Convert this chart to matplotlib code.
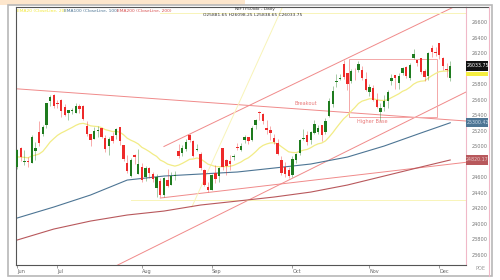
import matplotlib
matplotlib.use("Agg")
import matplotlib.pyplot as plt
from matplotlib.patches import Rectangle
from matplotlib.lines import Line2D
import matplotlib.transforms as mtransforms

# daily OHLC, 16 Jun -> 4 Dec (one entry per trading day)
opens = [24732, 24977, 24788, 24803, 24787, 24939, 25179, 25151, 25268, 25576, 25661,
         25551, 25588, 25505, 25428, 25450, 25428, 25515, 25512, 25256, 25149, 25090,
         25197, 25231, 25108, 24999, 25125, 25139, 25244, 25011, 24782, 24609, 24890, 24642,
         24735, 24596, 24720, 24641, 24464, 24544, 24371, 24563, 24496, 24607, 24938, 24904,
         24965, 25142, 25064, 24950, 24899, 24695, 24466,
         24432, 24653, 24617, 24980, 24818, 24802, 24864, 24992, 24945, 25074, 25118, 25074,
         25276, 25441, 25410, 25239, 25209, 25108, 25035, 24818, 24729, 24691,
         24620, 24815, 24916, 25086, 25140, 25074, 25167, 25178, 25277, 25181, 25394, 25546,
         25824, 25867, 26057, 25936, 25844, 25939, 25982, 25984, 25863,
         25697, 25744, 25593, 25433, 25503, 25576, 25834, 25920, 25818, 25946, 26022, 25876,
         26132, 26109, 26133, 25967, 25902, 26262, 26216,
         26326, 26136, 26000, 25882]
highs = [24967, 24983, 24947, 24864, 25137, 25058, 25317, 25266, 25561, 25654, 25669,
         25593, 25608, 25548, 25470, 25489, 25549, 25548, 25525, 25323, 25151, 25245,
         25255, 25238, 25145, 25111, 25183, 25233, 25247, 25011, 24889, 24848, 24903, 24956,
         24784, 24736, 24733, 24671, 24634, 24586, 24602, 24702, 24664, 24674, 25022, 25013,
         25088, 25154, 25084, 25021, 24919, 24703, 24541,
         24636, 24756, 24730, 24980, 24833, 24885, 24892, 25036, 25038, 25139, 25120, 25262,
         25346, 25449, 25429, 25331, 25261, 25151, 25092, 24868, 24791, 24731,
         24867, 24904, 25095, 25220, 25193, 25199, 25331, 25267, 25277, 25365, 25625, 25781,
         25926, 25935, 26104, 25944, 25999, 26010, 26097, 26032, 25954,
         25803, 25787, 25679, 25551, 25653, 25718, 25934, 25921, 25940, 26021, 26029, 26075,
         26246, 26110, 26142, 25996, 26215, 26310, 26280,
         26325, 26155, 26066, 26098]
lows = [24703, 24813, 24750, 24733, 24784, 24825, 24999, 25125, 25234, 25523, 25489,
        25488, 25378, 25389, 25331, 25407, 25424, 25424, 25341, 25129, 25001, 25089,
        25121, 25101, 24918, 24882, 25036, 25085, 25018, 24807, 24646, 24599, 24771, 24635,
        24535, 24554, 24590, 24540, 24344, 24337, 24347, 24465, 24494, 24563, 24852, 24871,
        24930, 25054, 24859, 24933, 24689, 24481, 24404,
        24432, 24529, 24533, 24691, 24621, 24697, 24819, 24944, 24940, 25036, 25025, 25071,
        25220, 25330, 25287, 25151, 25084, 25032, 24878, 24629, 24605, 24587,
        24605, 24776, 24881, 25077, 25008, 25024, 25156, 25152, 25060, 25159, 25376, 25508,
        25763, 25848, 25862, 25718, 25812, 25856, 25960, 25846, 25711,
        25645, 25578, 25492, 25318, 25449, 25491, 25792, 25740, 25740, 25920, 25876, 25857,
        26119, 26037, 25927, 25843, 25848, 26151, 26165,
        26125, 25981, 25891, 25839]
closes = [24946, 24853, 24812, 24793, 25112, 24972, 25044, 25245, 25549, 25637, 25517,
          25542, 25453, 25405, 25461, 25461, 25523, 25476, 25355, 25150, 25082, 25196,
          25212, 25112, 24968, 25091, 25061, 25220, 25062, 24837, 24681, 24821, 24855, 24768,
          24565, 24723, 24650, 24574, 24596, 24363, 24585, 24487, 24619, 24631, 24877, 24980,
          25051, 25084, 24870, 24968, 24712, 24501, 24427,
          24625, 24580, 24715, 24734, 24741, 24773, 24869, 24973, 25005, 25114, 25069, 25239,
          25330, 25424, 25327, 25202, 25170, 25057, 24891, 24655, 24634, 24611,
          24836, 24894, 25077, 25108, 25046, 25181, 25285, 25227, 25145, 25324, 25585, 25710,
          25843, 25868, 25891, 25795, 25966, 25936, 26054, 25878, 25722,
          25763, 25598, 25510, 25492, 25575, 25695, 25876, 25880, 25910, 26013, 25910, 26052,
          26192, 26068, 25960, 25885, 26205, 26216, 26203,
          26176, 26032, 25986, 26034]

ema20 = [24859, 24858, 24854, 24848, 24873, 24882, 24898, 24931, 24990, 25052, 25096,
         25138, 25168, 25191, 25216, 25240, 25267, 25287, 25293, 25280, 25261, 25255,
         25251, 25238, 25212, 25200, 25187, 25190, 25178, 25146, 25101, 25075, 25054, 25027,
         24983, 24958, 24929, 24895, 24867, 24819, 24797, 24767, 24753, 24741, 24754, 24776,
         24802, 24829, 24833, 24846, 24833, 24801, 24766,
         24752, 24736, 24734, 24734, 24735, 24738, 24751, 24772, 24794, 24825, 24848, 24885,
         24927, 24975, 25008, 25027, 25040, 25042, 25028, 24992, 24958, 24925,
         24917, 24915, 24930, 24947, 24956, 24978, 25007, 25028, 25039, 25066, 25116, 25172,
         25236, 25296, 25353, 25395, 25449, 25496, 25549, 25580, 25594,
         25610, 25609, 25599, 25589, 25588, 25598, 25625, 25649, 25674, 25706, 25726, 25757,
         25798, 25824, 25837, 25841, 25876, 25908, 25936,
         25959, 25966, 25968, 25974]

# slow averages every 10 bars
ema_bars = [0, 10, 20, 30, 40, 50, 60, 70, 80, 90, 100, 110, 118]
ema100 = [24071, 24213, 24368, 24561, 24613, 24639, 24665, 24716, 24768, 24858, 25000, 25168, 25300]
ema200 = [23787, 23929, 24032, 24110, 24161, 24239, 24290, 24342, 24406, 24497, 24613, 24729, 24820]

month_names = ["Jun", "Jul", "Aug", "Sep", "Oct", "Nov", "Dec"]
month_start = [0, 11, 34, 53, 75, 96, 115]

# scale labels (the ones hidden under the price tags are left out)
price_ticks = [23600, 23800, 24000, 24200, 24400, 24600, 25000, 25200, 25400,
               25600, 25800, 26200, 26400, 26600]

# drawn trendlines: (bar, price) end points
red_lines = [
    ([-0.3, 122.3], [25739, 25323]),   # falling resistance
    ([40, 122.3], [24994, 26870]),     # channel top
    ([25, 122.3], [23408, 25697]),     # channel bottom
    ([39, 122.3], [24329, 24790]),     # rising support
]
yellow_lines = [
    ([47.6, 72.3], [24213, 26794]),
    ([31, 122.3], [24303, 24303]),
    ([39, 122.3], [26716, 26716]),
]
base_box = (90.5, 25374, 23.9, 749)   # bar, low, width in bars, height

last_close = 26033.75

up_col = "#1e7b1e"
dn_col = "#ee2a2a"
line_red = "#f08a8a"

fig = plt.figure(figsize=(5, 2.8), dpi=100)
fig.patches.append(Rectangle((0, 1 - 5 / 280), 245 / 500, 5 / 280, transform=fig.transFigure,
                             facecolor="#fde6cc", edgecolor="none"))
fig.patches.append(Rectangle((8 / 500, 4 / 280), 484 / 500, 271 / 280, transform=fig.transFigure,
                             facecolor="none", edgecolor="#b8b8b8", lw=1.2))
fig.lines.append(Line2D([466 / 500, 489 / 500], [1 - 7 / 280, 1 - 7 / 280], transform=fig.transFigure,
                        color="#555555", lw=0.8))
fig.lines.append(Line2D([489 / 500, 489 / 500], [1 - 276 / 280, 1 - 7 / 280], transform=fig.transFigure,
                        color="#f0b8c8", lw=0.8))

ax = fig.add_axes([16 / 500, 15 / 280, 450 / 500, 258 / 280])
ax.set_xlim(-0.3, 122.3)
ax.set_ylim(23465, 26794)

# candles
for i in range(len(closes)):
    col = up_col if closes[i] >= opens[i] else dn_col
    ax.vlines(i, lows[i], highs[i], color=col, lw=0.5, alpha=0.55, zorder=3)
    lo = min(opens[i], closes[i])
    h = max(abs(closes[i] - opens[i]), 6)
    ax.bar(i, h, bottom=lo, width=0.66, color=col, edgecolor="none", zorder=4)

ax.plot(range(len(ema20)), ema20, color="#f2ec86", lw=0.9, zorder=2)
ax.plot(ema_bars, ema100, color="#4d7594", lw=0.8, zorder=2)
ax.plot(ema_bars, ema200, color="#b8585c", lw=0.8, zorder=2)

for xs, ys in red_lines:
    ax.plot(xs, ys, color=line_red, lw=0.7, zorder=1)
for xs, ys in yellow_lines:
    ax.plot(xs, ys, color="#f8f4b8", lw=0.7, zorder=1)

bx, by, bw, bh = base_box
ax.add_patch(Rectangle((bx, by), bw, bh, facecolor="none", edgecolor="#f4a8a8", lw=0.7, zorder=1))
ax.text(bx + 2, by - 60, "Higher Base", color="#e87878", fontsize=3.6, va="center", ha="left")
ax.text(75.5, 25550, "Breakout", color="#e87878", fontsize=3.6, va="center", ha="left")

# axes styling
for s in ["left", "top", "bottom"]:
    ax.spines[s].set_color("#555555")
    ax.spines[s].set_linewidth(0.8)
ax.spines["right"].set_color("#f0b8c8")
ax.spines["right"].set_linewidth(0.8)

ax.yaxis.tick_right()
ax.set_yticks(price_ticks)
ax.set_yticklabels([str(p) for p in price_ticks])
ax.tick_params(axis="y", length=0, pad=4, labelsize=3.6, labelcolor="#777777")
ax.set_xticks(month_start)
ax.set_xticklabels(month_names, ha="left")
ax.tick_params(axis="x", length=2, width=0.5, color="#777777", pad=1, labelsize=3.6,
               labelcolor="#666666")

# price tags on the right scale
tr = mtransforms.blended_transform_factory(ax.transAxes, ax.transData)
tag_w = 22 / 450
ax.add_patch(Rectangle((1.001, ema20[-1] - 75), tag_w, 60, transform=tr, facecolor="#f5ee40",
                       edgecolor="none", clip_on=False, zorder=5))
tags = [(last_close, "26033.75", "#111111", "white"),
        (ema100[-1], "25300.42", "#4d7594", "#c8d8e8"),
        (ema200[-1], "24820.17", "#b8585c", "#e8c8c8")]
for yv, txt, fc, tc in tags:
    ax.add_patch(Rectangle((1.001, yv - 60), tag_w, 120, transform=tr, facecolor=fc,
                           edgecolor="none", clip_on=False, zorder=6))
    ax.text(1.001 + tag_w / 2, yv, txt, transform=tr, fontsize=3.4, color=tc, va="center",
            ha="center", clip_on=False, zorder=7)

fig.text(475 / 500, 1 - 268 / 280, "POE", fontsize=3.6, color="#999999", va="center")

# header texts
fig.text(17 / 500, 1 - 11 / 280, "EMA20 (CloseLine, 20)", fontsize=3.2, color="#f2e83a", va="center")
fig.text(64 / 500, 1 - 11 / 280, "EMA100 (CloseLine, 100)", fontsize=3.2, color="#4d7594", va="center")
fig.text(117 / 500, 1 - 11 / 280, "EMA200 (CloseLine, 200)", fontsize=3.2, color="#d85050", va="center")
fig.text(255 / 500, 1 - 9 / 280, "NIFTY50idx - Daily", fontsize=3.2, color="#333333", va="center", ha="center")
fig.text(253 / 500, 1 - 15 / 280, "O25881.65 H26098.25 L25838.65 C26033.75", fontsize=3.2,
         color="#333333", va="center", ha="center")

fig.savefig("out.png", dpi=100)
